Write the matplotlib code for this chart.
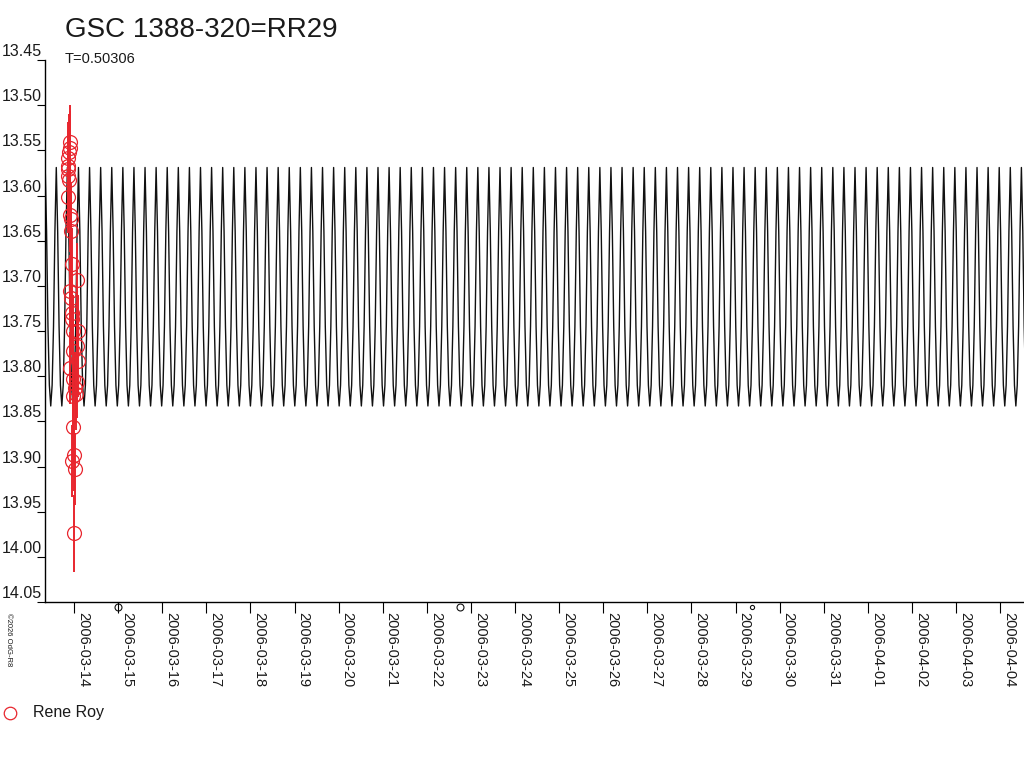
import numpy as np
import pandas as pd
import matplotlib
matplotlib.use('Agg')
import matplotlib.pyplot as plt
import matplotlib.transforms as mtransforms
from matplotlib import rcParams

rcParams.update({
    "font.family": ['Liberation Sans', 'DejaVu Sans'],
    "font.size": 11,
})

# 观测数据: 相对 2006-03-14 的天数, 星等, 误差
obs_day = [-0.09, -0.09, -0.11, -0.14, -0.14, -0.14, -0.14, -0.11, -0.14, -0.09,
           -0.07, -0.07, -0.05, 0.07, -0.09, -0.07, -0.05, -0.05, -0.02, 0.09,
           -0.02, 0.07, 0.09, -0.09, -0.02, 0.07, 0.02, 0.05, -0.02, -0.02,
           0.00, -0.05, 0.02, 0.00]
obs_mag = [13.541, 13.547, 13.552, 13.559, 13.567, 13.571, 13.578, 13.583, 13.602, 13.622,
           13.626, 13.639, 13.676, 13.693, 13.706, 13.713, 13.730, 13.737, 13.750, 13.750,
           13.772, 13.767, 13.783, 13.791, 13.803, 13.806, 13.813, 13.820, 13.822, 13.856,
           13.887, 13.894, 13.903, 13.974]
obs_err = [0.041, 0.040, 0.042, 0.040, 0.040, 0.040, 0.040, 0.040, 0.040, 0.040,
           0.040, 0.040, 0.040, 0.040, 0.040, 0.040, 0.040, 0.040, 0.040, 0.040,
           0.040, 0.040, 0.040, 0.040, 0.040, 0.040, 0.040, 0.040, 0.040, 0.040,
           0.040, 0.040, 0.040, 0.043]

# 光变曲线: 一个周期内的形状 (相位, 星等)
period = 0.50306
epoch_min = 18.84
shape_phase = [0.0, 0.0625, 0.125, 0.1875, 0.25, 0.3125, 0.375, 0.4375,
               0.5, 0.5625, 0.625, 0.6875, 0.75, 0.8125, 0.875, 0.9375]
shape_mag = [13.833, 13.810, 13.745, 13.640, 13.569, 13.640, 13.745, 13.810,
             13.833, 13.810, 13.745, 13.640, 13.569, 13.640, 13.745, 13.810]

x_min, x_max = -0.658, 21.54
y_ticks = [13.45, 13.50, 13.55, 13.60, 13.65, 13.70, 13.75, 13.80, 13.85,
           13.90, 13.95, 14.00, 14.05]
tick_dates = pd.date_range('2006-03-14', '2006-04-04')
tick_days = np.arange(len(tick_dates))
tick_labels = [d.strftime('%Y-%m-%d') for d in tick_dates]

# 其他小标记 (轴下方)
mark_day = [1.0, 8.75, 15.37]
mark_size = [5, 5, 3]

red = '#e8262e'
txt = '#1a1a1a'

fig = plt.figure(figsize=(10.24, 7.68), dpi=100)
ax = fig.add_axes([45 / 1024, 1 - 602 / 768, 979 / 1024, 542 / 768])

# 按周期铺开曲线
k0 = int(np.floor((x_min - epoch_min) / period)) - 1
k1 = int(np.ceil((x_max - epoch_min) / period)) + 1
curve_t, curve_m = [], []
for k in range(k0, k1):
    for p, m in zip(shape_phase, shape_mag):
        curve_t.append(epoch_min + (k + p) * period)
        curve_m.append(m)
ax.plot(curve_t, curve_m, color='#111111', lw=1.0)

ax.errorbar(obs_day, obs_mag, yerr=obs_err, fmt='o', mfc='none', mec=red,
            ecolor=red, ms=10, mew=0.9, elinewidth=1.4, capsize=0, zorder=3)

ax.set_xlim(x_min, x_max)
ax.set_ylim(14.05, 13.45)
for s in ['top', 'right']:
    ax.spines[s].set_visible(False)
ax.spines['left'].set_linewidth(1.0)
ax.spines['bottom'].set_linewidth(1.0)

ax.set_yticks(y_ticks)
ax.set_yticklabels([])
ax.tick_params(axis='y', direction='out', length=6, width=0.8)
ax.set_xticks(tick_days)
ax.set_xticklabels([])
ax.tick_params(axis='x', direction='out', length=8, width=0.8)

# y 刻度标签 (在刻度线上方)
ytr = mtransforms.blended_transform_factory(ax.transAxes, ax.transData)
ytr = ytr + mtransforms.ScaledTranslation(-3 / 100, 1 / 100, fig.dpi_scale_trans)
for v in y_ticks:
    ax.text(0, v, f'{v:.2f}', transform=ytr, ha='right', va='bottom',
            fontsize=11.5, color=txt, clip_on=False)

# x 刻度标签 (竖排)
xtr = mtransforms.blended_transform_factory(ax.transData, ax.transAxes)
xtr = xtr + mtransforms.ScaledTranslation(2 / 100, -10 / 100, fig.dpi_scale_trans)
for d, lab in zip(tick_days, tick_labels):
    ax.text(d, 0, lab, transform=xtr, rotation=-90, ha='left', va='top',
            fontsize=10.5, color=txt, clip_on=False)

mtr = mtransforms.blended_transform_factory(ax.transData, ax.transAxes)
mtr = mtr + mtransforms.ScaledTranslation(0, -5 / 100, fig.dpi_scale_trans)
for d, s in zip(mark_day, mark_size):
    ax.plot(d, 0, 'o', mfc='none', mec='#111111', ms=s, mew=0.8,
            transform=mtr, clip_on=False)

fig.text(65 / 1024, 1 - 37 / 768, 'GSC 1388-320=RR29', fontsize=20,
         color=txt, va='baseline')
fig.text(65 / 1024, 1 - 63 / 768, 'T=0.50306', fontsize=10.5,
         color=txt, va='baseline')
fig.text(5 / 1024, 1 - 613 / 768, '©2026 OdG-R8', fontsize=5.5, color=txt,
         rotation=-90, ha='left', va='top')

# 图例
fig.lines.append(plt.Line2D([10 / 1024], [1 - 713 / 768], marker='o', mfc='none',
                            mec=red, ms=9, mew=0.9, transform=fig.transFigure))
fig.text(33 / 1024, 1 - 713 / 768, 'Rene Roy', fontsize=11.5, color=txt,
         va='center')

fig.savefig('out.png', dpi=100)
